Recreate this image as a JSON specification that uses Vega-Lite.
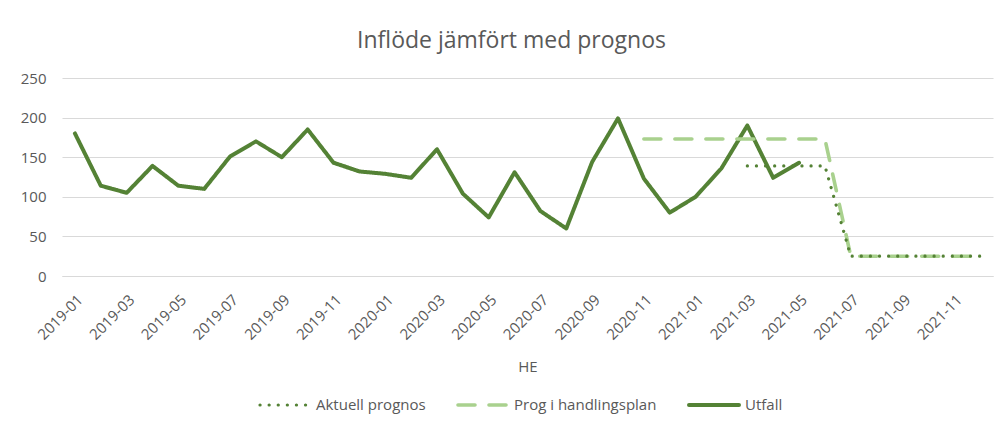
{
  "$schema": "https://vega.github.io/schema/vega-lite/v6.json",
  "autosize": "none",
  "width": 931,
  "height": 198,
  "padding": {"left": 62, "top": 78, "right": 14, "bottom": 154},
  "background": "white",
  "title": {
    "text": "Inflöde jämfört med prognos",
    "fontSize": 23,
    "font": "Open Sans, sans-serif",
    "fontWeight": "normal",
    "color": "#595959",
    "anchor": "middle",
    "dx": -16,
    "offset": 18
  },
  "data": {
    "values": [
      {"month": "2019-01", "series": "Utfall", "value": 180},
      {"month": "2019-02", "series": "Utfall", "value": 114},
      {"month": "2019-03", "series": "Utfall", "value": 105},
      {"month": "2019-04", "series": "Utfall", "value": 139},
      {"month": "2019-05", "series": "Utfall", "value": 114},
      {"month": "2019-06", "series": "Utfall", "value": 110},
      {"month": "2019-07", "series": "Utfall", "value": 151},
      {"month": "2019-08", "series": "Utfall", "value": 170},
      {"month": "2019-09", "series": "Utfall", "value": 150},
      {"month": "2019-10", "series": "Utfall", "value": 185},
      {"month": "2019-11", "series": "Utfall", "value": 143},
      {"month": "2019-12", "series": "Utfall", "value": 132},
      {"month": "2020-01", "series": "Utfall", "value": 129},
      {"month": "2020-02", "series": "Utfall", "value": 124},
      {"month": "2020-03", "series": "Utfall", "value": 160},
      {"month": "2020-04", "series": "Utfall", "value": 104},
      {"month": "2020-05", "series": "Utfall", "value": 74},
      {"month": "2020-06", "series": "Utfall", "value": 131},
      {"month": "2020-07", "series": "Utfall", "value": 82},
      {"month": "2020-08", "series": "Utfall", "value": 60},
      {"month": "2020-09", "series": "Utfall", "value": 144},
      {"month": "2020-10", "series": "Utfall", "value": 199},
      {"month": "2020-11", "series": "Utfall", "value": 123},
      {"month": "2020-12", "series": "Utfall", "value": 80},
      {"month": "2021-01", "series": "Utfall", "value": 100},
      {"month": "2021-02", "series": "Utfall", "value": 136},
      {"month": "2021-03", "series": "Utfall", "value": 190},
      {"month": "2021-04", "series": "Utfall", "value": 124},
      {"month": "2021-05", "series": "Utfall", "value": 143},
      {"month": "2020-11", "series": "Prog i handlingsplan", "value": 173},
      {"month": "2020-12", "series": "Prog i handlingsplan", "value": 173},
      {"month": "2021-01", "series": "Prog i handlingsplan", "value": 173},
      {"month": "2021-02", "series": "Prog i handlingsplan", "value": 173},
      {"month": "2021-03", "series": "Prog i handlingsplan", "value": 173},
      {"month": "2021-04", "series": "Prog i handlingsplan", "value": 173},
      {"month": "2021-05", "series": "Prog i handlingsplan", "value": 173},
      {"month": "2021-06", "series": "Prog i handlingsplan", "value": 173},
      {"month": "2021-07", "series": "Prog i handlingsplan", "value": 25},
      {"month": "2021-08", "series": "Prog i handlingsplan", "value": 25},
      {"month": "2021-09", "series": "Prog i handlingsplan", "value": 25},
      {"month": "2021-10", "series": "Prog i handlingsplan", "value": 25},
      {"month": "2021-11", "series": "Prog i handlingsplan", "value": 25},
      {"month": "2021-12", "series": "Prog i handlingsplan", "value": 25},
      {"month": "2021-03", "series": "Aktuell prognos", "value": 139},
      {"month": "2021-04", "series": "Aktuell prognos", "value": 139},
      {"month": "2021-05", "series": "Aktuell prognos", "value": 139},
      {"month": "2021-06", "series": "Aktuell prognos", "value": 139},
      {"month": "2021-07", "series": "Aktuell prognos", "value": 25},
      {"month": "2021-08", "series": "Aktuell prognos", "value": 25},
      {"month": "2021-09", "series": "Aktuell prognos", "value": 25},
      {"month": "2021-10", "series": "Aktuell prognos", "value": 25},
      {"month": "2021-11", "series": "Aktuell prognos", "value": 25},
      {"month": "2021-12", "series": "Aktuell prognos", "value": 25}
    ]
  },
  "mark": {"type": "line", "strokeCap": "round", "strokeJoin": "round"},
  "encoding": {
    "x": {
      "field": "month",
      "type": "ordinal",
      "scale": {
        "type": "point",
        "padding": 0.5,
        "domain": ["2019-01","2019-02","2019-03","2019-04","2019-05","2019-06","2019-07","2019-08","2019-09","2019-10","2019-11","2019-12","2020-01","2020-02","2020-03","2020-04","2020-05","2020-06","2020-07","2020-08","2020-09","2020-10","2020-11","2020-12","2021-01","2021-02","2021-03","2021-04","2021-05","2021-06","2021-07","2021-08","2021-09","2021-10","2021-11","2021-12"]
      },
      "axis": {
        "title": "HE",
        "values": ["2019-01","2019-03","2019-05","2019-07","2019-09","2019-11","2020-01","2020-03","2020-05","2020-07","2020-09","2020-11","2021-01","2021-03","2021-05","2021-07","2021-09","2021-11"],
        "labelAngle": -45,
        "labelFontSize": 15,
        "labelColor": "#595959",
        "labelFont": "Open Sans, sans-serif",
        "labelPadding": 16,
        "ticks": false,
        "grid": false,
        "domainColor": "#D9D9D9",
        "titleFontSize": 15,
        "titleFontWeight": "normal",
        "titleColor": "#595959",
        "titleFont": "Open Sans, sans-serif",
        "titlePadding": 17
      }
    },
    "y": {
      "field": "value",
      "type": "quantitative",
      "scale": {"domain": [0, 250]},
      "axis": {
        "title": null,
        "values": [0, 50, 100, 150, 200, 250],
        "labelFontSize": 15,
        "labelColor": "#595959",
        "labelFont": "Open Sans, sans-serif",
        "labelPadding": 16,
        "ticks": false,
        "domain": false,
        "gridColor": "#D9D9D9",
        "gridWidth": 1
      }
    },
    "color": {
      "field": "series",
      "type": "nominal",
      "scale": {"domain": ["Aktuell prognos", "Prog i handlingsplan", "Utfall"], "range": ["#548235", "#A9D18E", "#548235"]},
      "legend": {
        "title": null,
        "orient": "none",
        "legendX": 196,
        "legendY": 300,
        "direction": "horizontal",
        "symbolType": "stroke",
        "symbolSize": 2500,
        "labelFontSize": 15,
        "labelColor": "#595959",
        "labelFont": "Open Sans, sans-serif",
        "columnPadding": 24,
        "labelOffset": 4,
        "encode": {"symbols": {"update": {"strokeCap": {"value": "round"}}}}
      }
    },
    "strokeDash": {
      "field": "series",
      "type": "nominal",
      "scale": {"domain": ["Aktuell prognos", "Prog i handlingsplan", "Utfall"], "range": [[0.1, 9], [17, 14], [1, 0]]},
      "legend": null
    },
    "strokeWidth": {
      "field": "series",
      "type": "nominal",
      "scale": {"domain": ["Aktuell prognos", "Prog i handlingsplan", "Utfall"], "range": [3.2, 4, 3.5]},
      "legend": null
    }
  },
  "config": {"view": {"stroke": null}}
}
